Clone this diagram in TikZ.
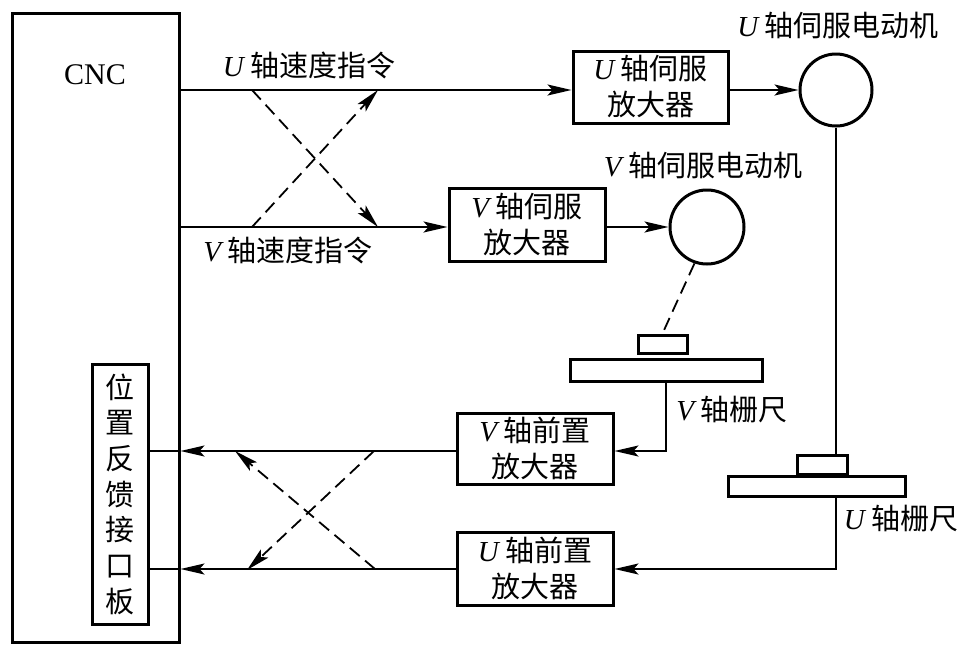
\documentclass[tikz,border=0pt]{standalone}
\usepackage{fontspec}
\setmainfont{Liberation Serif}
\newfontfamily\cjk{Noto Sans CJK SC}
\usetikzlibrary{arrows.meta}
\newcommand\axisl[1]{{\rmfamily\itshape #1}}
\begin{document}
\begin{tikzpicture}[x=1pt,y=-1pt,
  box/.style={draw, line width=3pt, inner sep=0pt, rectangle},
  motor/.style={draw, line width=3pt, circle, inner sep=0pt, minimum size=72pt},
  conn/.style={line width=2pt},
  arr/.style={-{Stealth[length=24pt,width=11pt,inset=5pt]}},
  dsh/.style={line width=1.8pt, dash pattern=on 13pt off 7pt},
  txt/.style={font=\fontsize{29}{36}\selectfont\cjk, inner sep=0pt, align=center}
]
\useasboundingbox (0,0) rectangle (978,651);
% CNC main box
\node[box, minimum width=167pt, minimum height=629pt] (cnc) at (95.5,327.5) {};
\node[font=\fontsize{30}{36}\selectfont, inner sep=0pt] (cnclabel) at (95,75) {CNC};
\node[box, txt, font=\fontsize{29}{35.7}\selectfont\cjk, minimum width=56pt, minimum height=260pt] (fb) at (120,494) {位\\置\\反\\馈\\接\\口\\板};
% amplifiers
\node[box, txt, minimum width=155pt, minimum height=72pt] (uamp) at (650.5,87) {\axisl{U} 轴伺服\\放大器};
\node[box, txt, minimum width=156pt, minimum height=73pt] (vamp) at (527,224.5) {\axisl{V} 轴伺服\\放大器};
\node[box, txt, minimum width=156pt, minimum height=71pt] (vpre) at (535,448.5) {\axisl{V} 轴前置\\放大器};
\node[box, txt, minimum width=156pt, minimum height=73pt] (upre) at (535,568.5) {\axisl{U} 轴前置\\放大器};
% motors
\node[motor] (umot) at (836,90) {};
\node[motor, minimum size=74pt] (vmot) at (707,227) {};
% gratings
\node[box, minimum width=49pt, minimum height=18pt] (vslider) at (662.5,344) {};
\node[box, minimum width=192pt, minimum height=22pt] (vscale) at (666,370) {};
\node[box, minimum width=50pt, minimum height=19pt] (uslider) at (822,464.5) {};
\node[box, minimum width=177pt, minimum height=20pt] (uscale) at (816.5,486) {};
% labels
\node[txt] (lus) at (309,65) {\axisl{U} 轴速度指令};
\node[txt] (lvs) at (288,250) {\axisl{V} 轴速度指令};
\node[txt] (lum) at (838,25) {\axisl{U} 轴伺服电动机};
\node[txt] (lvm) at (703,165) {\axisl{V} 轴伺服电动机};
\node[txt] (lvg) at (732,410) {\axisl{V} 轴栅尺};
\node[txt] (lug) at (901,519) {\axisl{U} 轴栅尺};
% coordinates
\coordinate (yu) at (0,90);
\coordinate (yv) at (0,227);
\coordinate (yfv) at (0,451);
\coordinate (yfu) at (0,569);
\coordinate (a1) at (252,90);
\coordinate (a2) at (378,227);
\coordinate (b1) at (252,227);
\coordinate (b2) at (378,90);
\coordinate (c1) at (374,451);
\coordinate (c2) at (247,570);
\coordinate (d1) at (375,569);
\coordinate (d2) at (235,451);
% command lines
\draw[conn,arr] (cnc.east |- yu) -- (uamp.west |- yu);
\draw[conn,arr] (cnc.east |- yv) -- (vamp.west |- yv);
\draw[conn,arr] (uamp.east |- yu) -- (umot.west);
\draw[conn,arr] (vamp.east |- yv) -- (vmot.west);
\draw[dsh,arr] (a1) -- (a2);
\draw[dsh,arr] (b1) -- (b2);
% motor to gratings
\draw[conn] (umot.south) -- (umot.south |- uslider.north);
\draw[dsh] (vmot.251) -- (vslider.north);
% grating feedback
\draw[conn,arr] (umot.south |- uscale.south) |- (upre.east |- yfu);
\draw[conn,arr] (vscale.south) |- (vpre.east |- yfv);
% feedback to CNC
\draw[conn,arr] (vpre.west |- yfv) -- (cnc.east |- yfv);
\draw[conn] (cnc.east |- yfv) -- (fb.east |- yfv);
\draw[conn,arr] (upre.west |- yfu) -- (cnc.east |- yfu);
\draw[conn] (cnc.east |- yfu) -- (fb.east |- yfu);
\draw[dsh,arr] (c1) -- (c2);
\draw[dsh,arr] (d1) -- (d2);
\end{tikzpicture}
\end{document}
